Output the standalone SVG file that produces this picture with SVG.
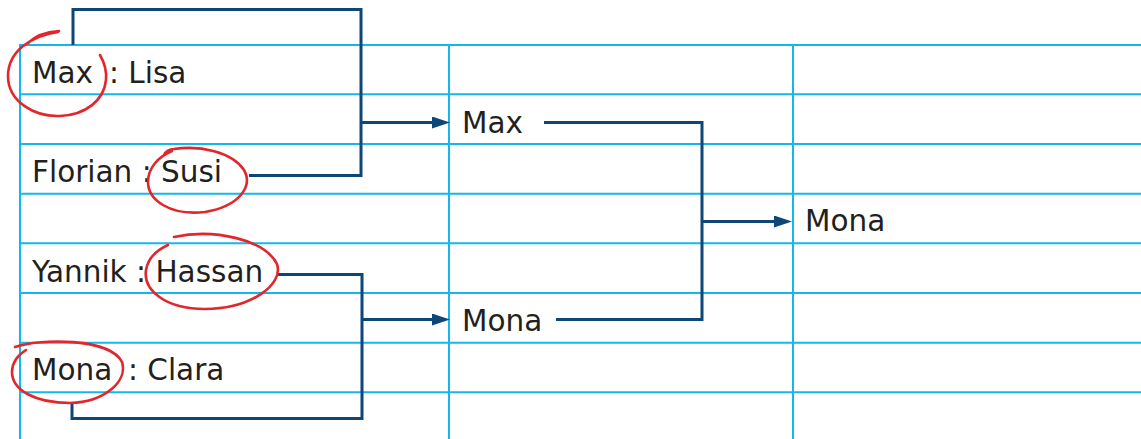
<svg xmlns="http://www.w3.org/2000/svg" width="1141" height="439" viewBox="0 0 1141 439">
<style>
.grid{stroke:#14b7ec;stroke-width:2;fill:none}
.br{stroke:#0d4777;stroke-width:3;fill:none;stroke-linejoin:miter}
.ring{stroke:#e3262b;stroke-width:2.6;fill:none;stroke-linecap:round}
text{font-family:"DejaVu Sans","Liberation Sans",sans-serif;font-size:29.5px;fill:#231f20}
</style>
<defs>
<marker id="ah" viewBox="0 0 18 12" refX="1" refY="6" markerWidth="18" markerHeight="12" markerUnits="userSpaceOnUse" orient="auto">
<path d="M0 0 L18 6 L0 12 Z" fill="#0d4777"/>
</marker>
</defs>
<rect width="1141" height="439" fill="#fff"/>
<g id="grid">
<line class="grid" x1="20" y1="45" x2="1141" y2="45"/>
<line class="grid" x1="20" y1="94.3" x2="1141" y2="94.3"/>
<line class="grid" x1="20" y1="144" x2="1141" y2="144"/>
<line class="grid" x1="20" y1="193.7" x2="1141" y2="193.7"/>
<line class="grid" x1="20" y1="243.3" x2="1141" y2="243.3"/>
<line class="grid" x1="20" y1="293" x2="1141" y2="293"/>
<line class="grid" x1="20" y1="342.7" x2="1141" y2="342.7"/>
<line class="grid" x1="20" y1="392.3" x2="1141" y2="392.3"/>
<line class="grid" x1="20" y1="44" x2="20" y2="439"/>
<line class="grid" x1="449" y1="44" x2="449" y2="439"/>
<line class="grid" x1="793" y1="44" x2="793" y2="439"/>
</g>
<g id="connectors">
<path class="br" d="M73 45 V9.5 H361 V175.5 H249"/>
<path class="br" d="M361 122.5 H433" marker-end="url(#ah)"/>
<path class="br" d="M278 274.5 H362 V418.5 H72 V403"/>
<path class="br" d="M362 319.5 H433" marker-end="url(#ah)"/>
<path class="br" d="M544 122.5 H702 V319.5 H556"/>
<path class="br" d="M702 221.5 H775" marker-end="url(#ah)"/>
</g>
<g id="node-max-lisa">
<text x="32" y="83">Max <tspan x="109">: Lisa</tspan></text>
<path class="ring" d="M59 31 C 44 32, 34 37, 28 43 M 58 32 C 30 36, 8 52, 8 76 C 8 102, 35 117, 60 116 C 86 115, 104 100, 106 80 C 107 70, 104 62, 100 55"/>
</g>
<g id="node-florian-susi">
<text x="32" y="181.5">Florian : Susi</text>
<path class="ring" d="M164 155 C 166 151, 170 149, 174 149 C 200 145, 232 152, 244 170 C 253 186, 240 206, 205 212 C 170 216, 148 200, 148 182 C 148 168, 158 157, 172 151"/>
</g>
<g id="node-yannik-hassan">
<text x="32" y="282">Yannik : Hassan</text>
<path class="ring" d="M174 237 C 215 228, 265 240, 277 264 C 284 285, 250 309, 205 309 C 165 309, 143 290, 146 270 C 148 258, 157 250, 168 245"/>
</g>
<g id="node-mona-clara">
<text x="32" y="380">Mona <tspan x="128">: Clara</tspan></text>
<path class="ring" d="M15 347 C 40 338, 110 338, 122 362 C 128 381, 105 402, 70 403 C 35 403, 12 390, 12 372 C 12 362, 18 355, 26 350"/>
</g>
<g id="node-max">
<text x="462" y="133">Max</text>
</g>
<g id="node-mona-mid">
<text x="462" y="330.5">Mona</text>
</g>
<g id="node-mona-final">
<text x="805" y="231">Mona</text>
</g>
</svg>
